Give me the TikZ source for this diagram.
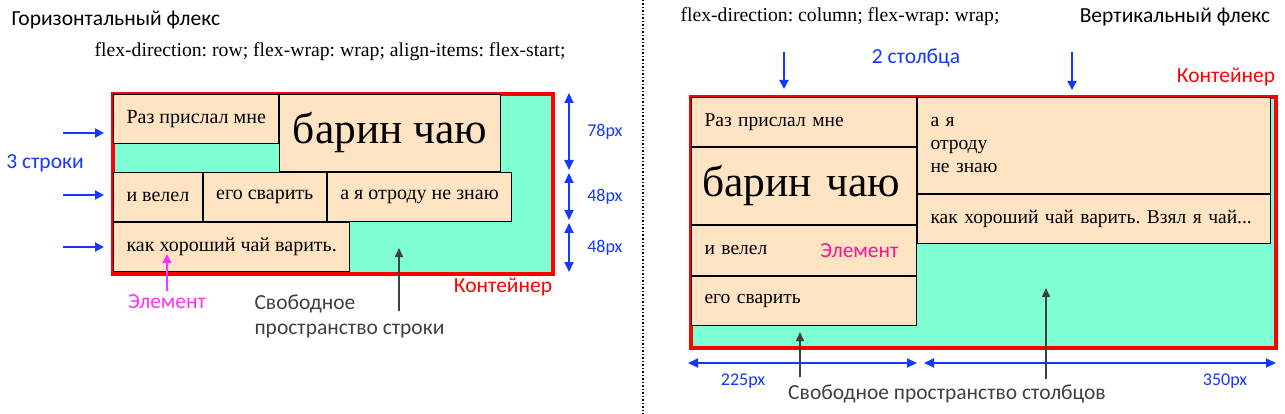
\documentclass[tikz,border=0pt]{standalone}
\usepackage{fontspec}
\setmainfont{Liberation Serif}
\newfontfamily\lblfont{Carlito}
\usepackage{tikz}
\usetikzlibrary{arrows.meta, positioning}
\definecolor{flexbg}{HTML}{7FFFD4}
\definecolor{itembg}{HTML}{FFE4C4}
\definecolor{cblue}{HTML}{1438FF}
\definecolor{cred}{HTML}{FF0000}
\definecolor{cmag}{HTML}{FF33FF}
\definecolor{cpink}{HTML}{FF1493}
\definecolor{cgray}{HTML}{404040}
\newcommand\bigtxt{\fontsize{43.5}{48}\selectfont}
\frenchspacing
\tikzset{flexbox/.style={draw=cred, line width=4pt, fill=flexbg, anchor=north west, inner sep=0pt},
    flexitem/.style={draw, line width=1pt, fill=itembg, anchor=north west,
        inner xsep=13pt, inner ysep=0pt, minimum height=#1pt, font=\fontsize{20}{23}\selectfont},
    colitem/.style 2 args={flexitem=#2, minimum width=#1pt, text width=#1pt-26pt, align=left,
        font=\fontsize{19.5}{23}\selectfont},
    lbl/.style={font=\lblfont\fontsize{21.5}{25}\selectfont},
    pxlbl/.style={font=\lblfont\fontsize{18}{21}\selectfont, text=cblue},
    codetxt/.style={font=\fontsize{19.7}{24}\selectfont},
    blue arrow/.style={draw=cblue, line width=2pt, -{Triangle[width=9pt,length=9pt]}},
    dimline/.style={draw=cblue, line width=2pt,
        {Triangle[width=9pt,length=10pt]}-{Triangle[width=9pt,length=10pt]}},
    gray arrow/.style={draw=cgray, line width=1.5pt, -{Triangle[width=8pt,length=9pt]}}}
\begin{document}
\begin{tikzpicture}[x=1pt, y=-1pt]
    \useasboundingbox (0,0) rectangle (1285,414);
    % horizontal flex
    \node[lbl, anchor=west] (htitle) at (8,20) {Горизонтальный флекс};
    \node[codetxt] (hcode) at (330,52) {flex-direction: row; flex-wrap: wrap; align-items: flex-start;};
    \node[flexbox, minimum width=440pt, minimum height=180pt] (hcont) at (111,92) {};
    \node[flexitem=49] (r1a) at ([shift={(2,2)}]hcont.north west) {Раз прислал мне};
    \node[flexitem=77, font=\bigtxt] (r1b) at (r1a.north east) {барин чаю};
    \node[flexitem=49] (r2a) at (r1a.west |- r1b.south) {и велел};
    \node[flexitem=49] (r2b) at (r2a.north east) {его сварить};
    \node[flexitem=49] (r2c) at (r2b.north east) {а я отроду не знаю};
    \node[flexitem=49] (r3a) at (r2a.south west) {как хороший чай варить.};
    \node[lbl, text=cred] (hlbl) at (503,287) {Контейнер};
    \coordinate (d1) at (569,93);
    \coordinate (d2) at (569,170);
    \coordinate (d3) at (569,173);
    \coordinate (d4) at (569,220);
    \coordinate (d5) at (569,223);
    \coordinate (d6) at (569,272);
    \draw[dimline] (d1) -- node[pxlbl, right=14pt] (h78) {78px} (d2);
    \draw[dimline] (d3) -- node[pxlbl, right=14pt] (h48a) {48px} (d4);
    \draw[dimline] (d5) -- node[pxlbl, right=14pt] (h48b) {48px} (d6);
    \node[lbl, text=cblue] (rows) at (45,163) {3 строки};
    \coordinate (la) at (63,133);
    \coordinate (lb) at (104,133);
    \coordinate (ma) at (63,195);
    \coordinate (mb) at (104,195);
    \coordinate (na) at (63,247);
    \coordinate (nb) at (104,247);
    \draw[blue arrow] (la) -- (lb);
    \draw[blue arrow] (ma) -- (mb);
    \draw[blue arrow] (na) -- (nb);
    \node[lbl, text=cmag] (elem) at (167,302) {Элемент};
    \coordinate (elemtip) at (167,254);
    \draw[draw=cmag, line width=2pt, -{Triangle[width=9pt,length=9pt]}] (elem) -- (elemtip);
    \node[lbl, text=cgray, align=left, anchor=west] (free) at (251,316) {Свободное\\пространство строки};
    \coordinate (freeA) at (399,311);
    \coordinate (freeB) at (399,248);
    \draw[gray arrow] (freeA) -- (freeB);
    % separator
    \coordinate (sepT) at (643,0);
    \coordinate (sepB) at (643,414);
    \draw[dotted, line width=1.5pt] (sepT) -- (sepB);
    % vertical flex
    \node[codetxt] (vcode) at (840,17) {flex-direction: column; flex-wrap: wrap;};
    \node[lbl] (vtitle) at (1175,17) {Вертикальный флекс};
    \node[lbl, text=cblue] (cols) at (916,58) {2 столбца};
    \node[lbl, text=cred] (vlbl) at (1226,77) {Контейнер};
    \coordinate (ca) at (784,52);
    \coordinate (cb) at (784,89);
    \coordinate (cc) at (1072,52);
    \coordinate (cd) at (1072,90);
    \draw[blue arrow] (ca) -- (cb);
    \draw[blue arrow] (cc) -- (cd);
    \node[flexbox, minimum width=585pt, minimum height=251pt] (vcont) at (689,95) {};
    \node[colitem={225}{49}] (c1a) at ([shift={(2,2)}]vcont.north west) {Раз прислал мне};
    \node[colitem={225}{77}, font=\bigtxt, inner xsep=11pt, text width=203pt] (c1b) at (c1a.south west) {барин чаю};
    \node[colitem={225}{50}] (c1c) at (c1b.south west) {и велел};
    \node[colitem={225}{49}] (c1d) at (c1c.south west) {его сварить};
    \node[colitem={353}{96}] (c2a) at (c1a.north east) {а я\\отроду\\не знаю};
    \node[colitem={353}{49}] (c2b) at (c2a.south west) {как хороший чай варить. Взял я чай...};
    \node[lbl, text=cpink, anchor=east] (elem2) at ([xshift=-15pt]c1c.east) {Элемент};
    \coordinate (w1) at (688,363);
    \coordinate (w2) at (917,363);
    \coordinate (w3) at (924,363);
    \coordinate (w4) at (1276,363);
    \draw[dimline] (w1) -- (w2);
    \draw[dimline] (w3) -- (w4);
    \node[pxlbl] (w225) at (743,381) {225px};
    \node[pxlbl] (w350) at (1225,381) {350px};
    \node[lbl, text=cgray] (free2) at (947,394) {Свободное пространство столбцов};
    \coordinate (g1a) at (800,377);
    \coordinate (g1b) at (800,332);
    \coordinate (g2a) at (1046,379);
    \coordinate (g2b) at (1046,288);
    \draw[gray arrow] (g1a) -- (g1b);
    \draw[gray arrow] (g2a) -- (g2b);
\end{tikzpicture}
\end{document}
